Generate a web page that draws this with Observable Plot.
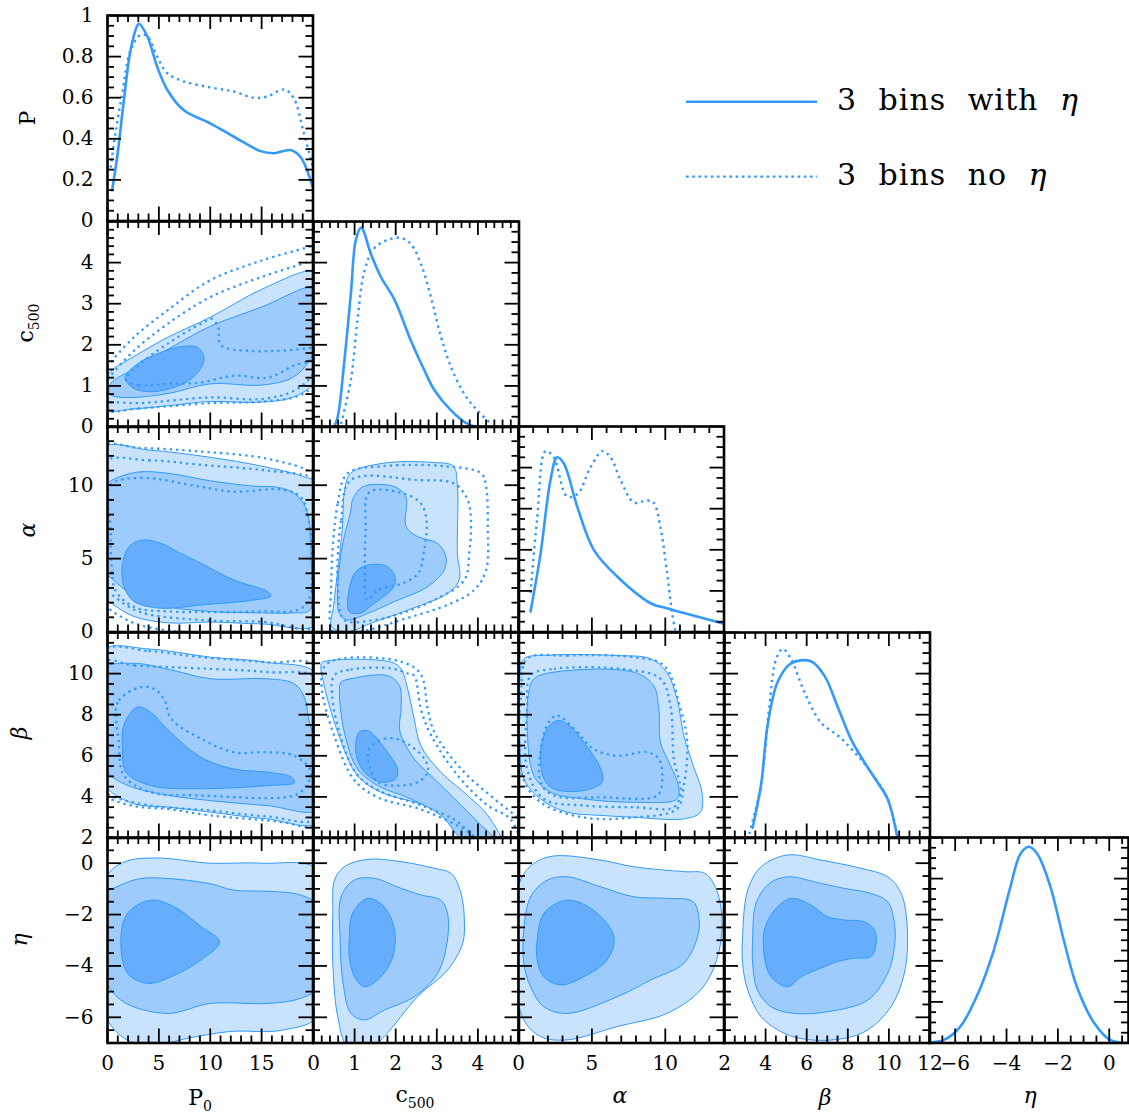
<!DOCTYPE html>
<html><head><meta charset="utf-8">
<script src="https://cdn.jsdelivr.net/npm/d3@7"></script>
<script src="https://cdn.jsdelivr.net/npm/@observablehq/plot@0.6"></script>
<style>
html,body{margin:0;padding:0;background:#fff;overflow:hidden}
#fig{position:relative;width:1129px;height:1115px;background:#fff}
.panel{position:absolute}
</style></head>
<body><div id="fig"></div>
<script>
// ---------- axes ----------
const P0_domain = [0, 20], c500_domain = [0, 5], alpha_domain = [0, 14], beta_domain = [2, 12], eta_domain = [-7, 0.75];
const eta_ydomain = [-7, 1], prob_domain = [0, 1];
const P0_labels = [0, 5, 10, 15];
const c500_labels = [0, 1, 2, 3, 4];
const alpha_labels = [0, 5, 10];
const beta_xlabels = [2, 4, 6, 8, 10, 12];
const beta_ylabels = [2, 4, 6, 8, 10];
const eta_labels = [-6, -4, -2, 0];
const prob_labels = [0, 0.2, 0.4, 0.6, 0.8, 1];

// ---------- 1D marginals ----------
const P0_solid = [[0.45,0.15],[0.94,0.31],[1.6,0.59],[2.24,0.83],[2.89,0.95],[3.05,0.96],[3.86,0.9],[4.84,0.75],[5.8,0.64],[7.4,0.54],[10,0.475],[12.3,0.41],[14.9,0.34],[16.2,0.33],[17.8,0.345],[18.8,0.31],[20,0.16]];
const P0_dotted = [[0.3,0.26],[0.78,0.43],[1.43,0.62],[2.24,0.83],[3.2,0.905],[3.86,0.9],[4.84,0.8],[5.8,0.72],[7.4,0.68],[10,0.65],[12.3,0.63],[14.2,0.6],[15.5,0.605],[17.2,0.64],[18.1,0.6],[19.1,0.43],[20,0.26]];
const c500_solid = [[0.5,0],[0.59,0.05],[0.75,0.32],[0.91,0.65],[1.03,0.91],[1.16,0.97],[1.4,0.84],[1.64,0.73],[1.97,0.62],[2.37,0.42],[2.7,0.275],[2.94,0.18],[3.35,0.08],[3.75,0.015],[4.0,0]];
const c500_dotted = [[0.67,0.015],[0.91,0.23],[1.07,0.52],[1.24,0.76],[1.48,0.87],[1.8,0.91],[2.13,0.92],[2.37,0.89],[2.62,0.79],[2.86,0.63],[3.1,0.44],[3.35,0.29],[3.67,0.16],[3.99,0.08],[4.32,0.015]];
const alpha_solid = [[0.82,0.1],[1.5,0.38],[2.18,0.74],[2.63,0.85],[3.09,0.82],[4.0,0.61],[5.13,0.4],[6.72,0.27],[9.0,0.14],[10.1,0.115],[14,0.04]];
const alpha_dotted = [[0.82,0.19],[1.27,0.55],[1.84,0.88],[2.4,0.85],[3.3,0.66],[4.0,0.67],[4.9,0.8],[5.7,0.88],[6.27,0.85],[6.95,0.74],[7.86,0.63],[8.76,0.64],[9.2,0.63],[9.67,0.51],[10.1,0.3],[10.47,0.09],[10.7,0]];
const beta_solid = [[3.37,0.05],[3.78,0.26],[4.1,0.55],[4.59,0.76],[5.24,0.85],[6.2,0.86],[6.86,0.79],[7.5,0.64],[8.16,0.48],[8.8,0.37],[9.45,0.27],[9.94,0.19],[10.4,0.01]];
const beta_dotted = [[3.2,0.02],[3.78,0.26],[4.18,0.64],[4.51,0.87],[4.83,0.92],[5.24,0.87],[5.89,0.71],[6.7,0.56],[7.5,0.5],[8.3,0.42],[9.13,0.32],[9.94,0.19],[10.4,0.01]];
const eta_solid = [[-7,0.003],[-6.44,0.015],[-5.8,0.08],[-5.15,0.23],[-4.5,0.45],[-3.85,0.76],[-3.46,0.92],[-3.13,0.955],[-2.8,0.92],[-2.29,0.76],[-1.77,0.5],[-1.25,0.27],[-0.6,0.1],[0.04,0.015],[0.75,0]];

// ---------- 2D contours (x, y); s3 = outer, s1 = inner ----------
// c500 vs P0
const c5_p0_s3 = [[-0.5,0.42],[2.6,0.44],[6,0.52],[10,0.62],[14.5,0.6],[18,0.72],[20,1.05],[20.6,1.6],[20.6,3.6],[20,3.8],[15,3.35],[10,2.67],[6,2.2],[2.6,1.72],[0.3,1.35],[-0.5,1.0]];
const c5_p0_s2 = [[0.2,0.8],[1,0.73],[2.6,0.72],[6,0.82],[10,1.05],[15,1.02],[18,1.2],[19.6,1.6],[20.6,2.2],[20.6,3.3],[20,3.42],[15,2.92],[10,2.45],[5.8,1.88],[2.6,1.42],[0.3,1.05]];
const c5_p0_s1 = [[1.7,1.2],[2.5,0.95],[4,0.86],[6,0.93],[8.3,1.2],[9.4,1.65],[8.8,1.93],[7,1.95],[5,1.8],[3,1.55]];
const c5_p0_d3 = [[-0.5,0.42],[3,0.45],[10,0.58],[15,0.62],[18.5,0.75],[20,1.0],[20.6,1.5],[20.6,4.5],[20,4.42],[15,4.05],[10,3.57],[5.8,2.83],[2.6,2.19],[0,1.46],[-0.5,1.2]];
const c5_p0_d2 = [[-0.5,0.55],[0.3,0.6],[3,0.58],[10,0.72],[15,0.68],[18.2,0.89],[20,1.3],[20.6,2],[20.6,4.1],[20,4.05],[15,3.65],[10,3.16],[5.8,2.5],[2.6,1.86],[0.3,1.25],[-0.5,1.0]];
const c5_p0_d1 = [[1.8,1.15],[3,1.02],[6,1.05],[9,1.08],[12.3,1.25],[15.6,1.2],[18.2,1.5],[20.6,1.7],[20.6,2.0],[20,1.94],[14,1.85],[11,2.0],[10.8,2.4],[10.2,2.63],[9,2.5],[6,2.05],[3,1.5]];
// alpha vs P0
const al_p0_s3 = [[-0.5,12.5],[4,12.4],[10,11.9],[15,11.3],[19,10.6],[20.6,10],[20.6,0.6],[15,0.55],[10,0.68],[6,0.62],[2.6,1.05],[0.5,1.9],[-0.5,2.5]];
const al_p0_s2 = [[-0.5,9.8],[0.6,10.4],[3,10.9],[6,10.8],[10,10.3],[14,9.95],[17,9.8],[18.6,9.2],[19.5,8],[19.8,5],[19.7,1.5],[18,1.3],[15,1.3],[10,1.4],[6,1.7],[3,2.3],[0.8,3.4],[-0.5,4.5]];
const al_p0_s1 = [[1.46,4.68],[2.2,5.9],[3.57,6.27],[5.2,6.04],[7,5.4],[9.1,4.68],[12.3,3.54],[15.6,2.75],[15.9,2.45],[14.3,2.18],[9.1,1.84],[5.2,1.62],[2.6,2.07],[1.6,3.1]];
const al_p0_d3 = [[-0.5,12.6],[3,12.55],[9,12.3],[15.6,11.8],[20,10.8],[20.6,10],[20.6,0],[15,-0.2],[6,0.1],[2.6,0.6],[0.3,1.5],[-0.5,2]];
const al_p0_d2 = [[-0.5,11.5],[4,11.7],[9,11.4],[15.6,11.0],[20,10.5],[20.6,10],[20.6,0.5],[15,0.7],[9,0.82],[3,1.4],[0.3,2.6],[-0.5,3]];
const al_p0_d1 = [[0.3,10.0],[3.2,10.5],[9,9.9],[12.3,9.56],[17,9.7],[18.8,9.2],[19.6,7.6],[19.6,2.2],[18.5,1.5],[15,1.4],[6,1.4],[2.6,1.7],[0.8,2.8],[0.4,4.5],[0.3,7]];
// alpha vs c500
const al_c5_s3 = [[0.45,0.3],[0.5,2],[0.7,7],[0.75,9.5],[0.9,10.8],[1.7,11.5],[2.9,11.55],[3.4,11.3],[3.5,10],[3.5,5.4],[3.55,3.6],[3.3,2.7],[2.3,1.5],[1.4,0.6],[0.9,0.05]];
const al_c5_s2 = [[0.91,8.3],[0.95,9.0],[1.2,9.9],[1.97,9.9],[2.25,9.2],[2.25,7.2],[2.53,6.5],[3.02,6.04],[3.22,5.13],[3.18,4.22],[2.78,3.09],[1.97,2.07],[1.32,1.27],[0.83,0.82],[0.63,1.27],[0.67,5.36]];
const al_c5_s1 = [[0.83,2.07],[1.0,4.0],[1.32,4.56],[1.8,4.45],[2.0,3.54],[1.89,2.86],[1.48,1.95],[1.12,1.27],[0.87,1.38]];
const al_c5_d3 = [[0.43,3.1],[0.59,8.76],[0.83,10.8],[1.72,11.3],[3.18,11.3],[4.08,10.8],[4.2,9.9],[4.24,7.2],[4.2,4.22],[3.91,2.86],[3.35,1.95],[2.13,0.82],[1.32,0.14],[0.5,-0.1]];
const al_c5_d2 = [[0.59,3.1],[0.67,7.6],[0.91,10.35],[2.53,10.35],[3.43,10.1],[3.75,9.0],[3.83,7.6],[3.79,5.36],[3.67,3.54],[2.94,2.18],[2.13,1.27],[1.48,0.82],[0.75,0.82]];
const al_c5_d1 = [[1.3,2.2],[1.6,2.9],[2.15,3.3],[2.55,4.0],[2.68,5.4],[2.75,7.6],[2.6,8.8],[2.1,9.5],[1.35,9.5],[1.27,7],[1.25,4]];
// beta vs P0
const be_p0_s3 = [[-0.5,11.1],[4,11.2],[10,10.8],[15.5,10.55],[20.6,9.9],[20.6,2.8],[15.5,2.93],[10,3.26],[6,3.5],[2.6,3.66],[0,4.4],[-0.5,5]];
const be_p0_s2 = [[-0.5,10.2],[2.6,10.5],[6,10.2],[10,9.75],[15.5,9.75],[18.2,9.5],[19.2,8.8],[19.7,7.5],[20.6,6.5],[20.6,3.4],[15.5,3.58],[10,3.82],[6,4.07],[2,4.55],[0,5.2],[-0.5,6]];
const be_p0_s1 = [[2.9,8.37],[1.6,7.5],[1.46,6.34],[1.8,5.2],[4.2,4.55],[9.1,4.4],[15.6,4.55],[18.2,4.7],[17.9,4.96],[15.6,5.2],[12.3,5.36],[9.1,5.93],[5.8,7.3],[4.2,8.12]];
const be_p0_d3 = [[-0.5,11.1],[4,11.1],[9.1,10.8],[15.6,10.55],[20.6,10.3],[20.6,2.7],[17,2.77],[15.6,2.85],[10,3.1],[6,3.4],[2.6,3.55],[0.3,3.9],[-0.5,4.2]];
const be_p0_d2 = [[-0.5,10.56],[2.6,10.4],[10,10.23],[15.6,10.07],[20.6,9.7],[20.6,3.0],[15.6,3.05],[10,3.34],[4.2,3.58],[0.3,4.07],[-0.5,4.5]];
const be_p0_d1 = [[3.2,9.34],[1,8.6],[1.1,6.66],[1.6,5.04],[4.2,4.23],[9.1,4.07],[17.2,3.98],[18.8,4.23],[19.8,5.2],[18.2,6.0],[15.6,6.17],[12.3,6.17],[9.1,6.83],[6.2,7.8],[5.5,8.77],[4.5,9.26]];
// beta vs c500
const be_c5_s3 = [[0.18,10.4],[0.22,10.56],[1.89,10.56],[2.13,10.23],[2.29,9.26],[2.45,7.8],[2.61,6.5],[3.1,5.2],[3.75,4.07],[4.24,3.1],[4.6,1.6],[4.0,1.6],[3.59,2.6],[2.7,3.58],[1.64,4.23],[1.07,5.04],[0.59,7.15],[0.26,9.42]];
const be_c5_s2 = [[0.67,9.58],[0.91,9.75],[1.8,9.9],[2.09,9.42],[2.13,8.28],[2.09,7.47],[2.13,7.0],[2.45,5.85],[2.94,4.88],[3.43,3.91],[4.0,2.77],[4.45,1.8],[3.7,1.8],[3.1,3.1],[2.37,3.9],[1.56,4.55],[1.07,5.36],[0.75,7.15],[0.63,9.1]];
const be_c5_s1 = [[1.11,7.15],[1.32,7.23],[1.8,6.18],[2.04,5.36],[2.0,4.88],[1.64,4.72],[1.24,5.2],[1.03,6.18]];
const be_c5_d3 = [[0.25,10.3],[0.6,10.7],[2.1,10.6],[2.6,10.0],[2.78,8.28],[2.94,7.15],[3.59,5.36],[4.4,3.9],[4.95,3.0],[5.2,2.3],[5.2,1.5],[4.4,1.5],[3.6,2.5],[2.6,3.4],[1.6,3.95],[1.0,4.8],[0.5,7.0],[0.2,9.3]];
const be_c5_d2 = [[0.5,9.9],[0.9,10.2],[1.9,10.25],[2.3,10.0],[2.45,9.9],[2.61,8.28],[2.86,7.0],[3.51,5.04],[4.24,3.58],[4.8,2.9],[5.0,1.5],[4.2,1.5],[3.5,2.8],[2.6,3.6],[1.6,4.3],[1.05,5.1],[0.65,7.0],[0.45,9.0]];
const be_c5_d1 = [[1.36,6.34],[1.72,6.83],[2.13,6.75],[2.7,5.85],[2.78,5.2],[2.53,4.72],[2.05,4.55],[1.56,4.72],[1.36,5.53]];
// beta vs alpha
const be_al_s3 = [[0.36,10.72],[2.18,10.9],[6.7,10.88],[9.0,10.72],[10.1,10.07],[10.8,8.77],[11.26,7.0],[11.9,5.53],[12.5,4.23],[12.4,3.26],[11.26,2.93],[7.86,3.01],[5.6,3.1],[3.3,3.26],[1.5,3.9],[0.36,4.88],[0.1,6.66],[0.1,9.9]];
const be_al_s2 = [[1.04,9.75],[2.4,10.07],[7.86,10.07],[9.2,9.42],[9.56,8.28],[9.67,6.66],[10.35,5.53],[10.9,4.55],[10.8,3.9],[7.86,3.74],[4.45,3.9],[2.18,4.23],[1.04,5.04],[0.59,7.47],[0.7,9.1]];
const be_al_s1 = [[2.63,7.72],[3.3,7.56],[4.45,6.66],[5.6,5.36],[5.7,4.72],[4.45,4.31],[2.4,4.39],[1.73,4.88],[1.5,6.18],[1.95,7.31]];
const be_al_d3 = [[0.59,10.72],[3.3,10.88],[7.86,10.8],[9.9,10.4],[11.04,8.28],[11.5,6.66],[11.26,4.55],[10.8,3.42],[7.86,3.0],[4.45,3.0],[1.5,3.74],[0.25,5.04],[0.18,9.1]];
const be_al_d2 = [[0.82,9.9],[2.4,10.23],[6.95,10.23],[9.67,9.75],[10.35,8.45],[10.58,5.85],[11.04,4.23],[10.58,3.5],[7.86,3.5],[4.45,3.58],[1.73,3.9],[0.59,5.36],[0.59,8.28]];
const be_al_d1 = [[2.63,7.96],[4.0,7.15],[5.1,6.34],[6.7,6.0],[8.76,6.18],[9.56,5.85],[9.8,4.88],[9.45,4.07],[5.6,3.98],[2.4,4.07],[1.5,4.72],[1.6,6.66],[2.07,7.64]];
// eta row (with-eta run only)
const et_p0_s3 = [[-0.5,-1],[0.3,-0.3],[2,0.1],[5,0.2],[10,0],[15,0],[20.6,-0.3],[20.6,-5.9],[17,-6.5],[12,-6.55],[8,-6.8],[5,-7.05],[2,-6.9],[0,-6.1],[-0.5,-5]];
const et_p0_s2 = [[-0.5,-1.3],[1,-0.9],[3.2,-0.6],[6,-0.6],[10,-0.8],[12.3,-1.05],[16,-1.1],[18.8,-1.24],[20.6,-1.7],[20.6,-4.8],[18.8,-5.26],[15.6,-5.46],[10,-5.46],[5.8,-5.85],[1.3,-5.33],[-0.5,-4.2]];
const et_p0_s1 = [[1.3,-2.99],[1.95,-1.95],[4.2,-1.44],[6.5,-1.7],[9.1,-2.47],[10.9,-3.06],[9.1,-3.77],[5.84,-4.48],[3.9,-4.68],[1.95,-4.29]];
const et_c5_s3 = [[0.47,-1.95],[0.51,-0.66],[0.75,-0.14],[1.32,0.15],[2.13,0.06],[2.94,-0.2],[3.35,-0.4],[3.59,-1.18],[3.67,-2.21],[3.63,-3.12],[3.26,-4.16],[2.53,-5.2],[1.72,-6.75],[1.32,-7.27],[0.83,-7.14],[0.59,-5.98],[0.47,-3.9]];
const et_c5_s2 = [[0.65,-2.99],[0.67,-1.31],[0.99,-0.66],[1.48,-0.59],[2.13,-0.98],[2.62,-1.24],[3.1,-1.44],[3.26,-1.95],[3.26,-2.99],[3.02,-4.29],[2.45,-5.2],[1.72,-5.72],[1.24,-6.1],[0.91,-5.85],[0.71,-4.55]];
const et_c5_s1 = [[0.87,-2.99],[0.95,-1.95],[1.32,-1.37],[1.72,-1.7],[1.97,-2.6],[1.93,-3.64],[1.64,-4.42],[1.24,-4.81],[1.0,-4.42],[0.87,-3.64]];
const et_al_s3 = [[-0.2,-2.6],[0.14,-0.66],[1.04,-0.01],[2.4,0.28],[5.59,0.12],[7.86,-0.14],[11.26,-0.33],[12.7,-0.4],[13.5,-1.05],[13.87,-2.34],[13.5,-3.77],[12.4,-4.94],[10.1,-5.85],[6.72,-6.36],[3.3,-6.88],[1.5,-6.75],[0.36,-6.1],[-0.2,-4.55]];
const et_al_s2 = [[0.36,-2.6],[0.82,-1.31],[1.95,-0.66],[3.3,-0.53],[5.59,-0.92],[7.86,-1.31],[10.1,-1.37],[11.9,-1.5],[12.3,-2.21],[12.2,-2.86],[11.26,-3.9],[9.0,-4.55],[6.72,-5.2],[3.3,-5.85],[1.73,-5.59],[0.82,-4.81],[0.36,-3.9]];
const et_al_s1 = [[1.27,-2.99],[1.73,-1.95],[3.3,-1.44],[5.1,-1.83],[6.5,-2.86],[6.04,-3.77],[4.45,-4.42],[2.86,-4.74],[1.73,-4.42],[1.27,-3.77]];
const et_be_s3 = [[2.88,-2.86],[3.13,-1.05],[3.78,-0.14],[5.07,0.32],[6.7,0.12],[8.64,-0.2],[9.94,-0.53],[10.6,-1.18],[10.9,-2.6],[10.75,-4.29],[10.1,-5.59],[8.97,-6.49],[7.83,-6.82],[6.2,-6.88],[4.9,-6.62],[3.78,-5.98],[3.13,-4.94],[2.88,-3.9]];
const et_be_s2 = [[3.37,-2.99],[3.53,-1.57],[4.18,-0.79],[5.07,-0.53],[6.7,-0.79],[7.83,-0.98],[9.13,-1.18],[9.94,-1.5],[10.27,-2.34],[10.27,-3.25],[9.94,-4.29],[8.97,-5.33],[7.02,-5.78],[5.4,-5.85],[4.26,-5.59],[3.6,-4.94],[3.37,-3.9]];
const et_be_s1 = [[3.94,-2.6],[4.43,-1.83],[5.24,-1.37],[6.2,-1.63],[7.02,-2.08],[7.83,-2.21],[8.8,-2.28],[9.3,-2.6],[9.38,-3.12],[9.13,-3.64],[8.3,-3.7],[7.5,-3.83],[6.86,-4.03],[5.73,-4.42],[5.07,-4.81],[4.26,-4.42],[3.94,-3.64]];

// ---------- tables built from the arrays ----------
const axesList = [
  {domain: P0_domain, xlabels: P0_labels, ylabels: null, major: 5, minor: 1},
  {domain: c500_domain, xlabels: c500_labels, ylabels: c500_labels, major: 1, minor: 0.2},
  {domain: alpha_domain, xlabels: alpha_labels, ylabels: alpha_labels, major: 5, minor: 1},
  {domain: beta_domain, xlabels: beta_xlabels, ylabels: beta_ylabels, major: 2, minor: 0.5},
  {domain: eta_domain, ydomain: eta_ydomain, xlabels: eta_labels, ylabels: eta_labels, major: 2, minor: 0.5}
];
const probAxis = {domain: prob_domain, ylabels: prob_labels, major: 0.2, minor: 0.05};
const diagLines = [[P0_solid, P0_dotted], [c500_solid, c500_dotted], [alpha_solid, alpha_dotted], [beta_solid, beta_dotted], [eta_solid, null]];
const contours = {
  "1-0": [[c5_p0_s3, c5_p0_s2, c5_p0_s1], [c5_p0_d3, c5_p0_d2, c5_p0_d1]],
  "2-0": [[al_p0_s3, al_p0_s2, al_p0_s1], [al_p0_d3, al_p0_d2, al_p0_d1]],
  "2-1": [[al_c5_s3, al_c5_s2, al_c5_s1], [al_c5_d3, al_c5_d2, al_c5_d1]],
  "3-0": [[be_p0_s3, be_p0_s2, be_p0_s1], [be_p0_d3, be_p0_d2, be_p0_d1]],
  "3-1": [[be_c5_s3, be_c5_s2, be_c5_s1], [be_c5_d3, be_c5_d2, be_c5_d1]],
  "3-2": [[be_al_s3, be_al_s2, be_al_s1], [be_al_d3, be_al_d2, be_al_d1]],
  "4-0": [[et_p0_s3, et_p0_s2, et_p0_s1], []],
  "4-1": [[et_c5_s3, et_c5_s2, et_c5_s1], []],
  "4-2": [[et_al_s3, et_al_s2, et_al_s1], []],
  "4-3": [[et_be_s3, et_be_s2, et_be_s1], []]
};

// ---------- styling ----------
const BLUE = "#3399ff";
const FILLS = ["#cae3fd", "#9dcbfc", "#66aefb"];
const X0 = 107, Y0 = 15, S = 205.5, LASTW = 199;
const FONT = "'DejaVu Serif', serif";
const fmt = d => d < 0 ? "\u2212" + Math.abs(d) : String(d);

function tickSets(ax) {
  const [lo, hi] = ax.ydomainOverride || ax.domain;
  const isMaj = v => Math.abs(v / ax.major - Math.round(v / ax.major)) < 1e-6;
  const major = d3.range(Math.ceil(lo / ax.major - 1e-9) * ax.major, hi + 1e-9, ax.major).map(v => +v.toFixed(6));
  const minor = d3.range(Math.ceil(lo / ax.minor - 1e-9) * ax.minor, hi + 1e-9, ax.minor).map(v => +v.toFixed(6)).filter(v => !isMaj(v));
  return {major, minor};
}

const fig = document.getElementById("fig");

function makePanel(row, col) {
  const W = col === 4 ? LASTW : S, H = S;
  const xa = axesList[col];
  const ya = row === col ? probAxis : axesList[row];
  const ydom = ya.ydomain || ya.domain;
  const ml = col === 0 ? 107 : 4, mr = 4, mt = 4, mb = row === 4 ? 45 : 4;
  const xt = tickSets(xa), yt = tickSets({...ya, ydomainOverride: ydom});
  const M = 14, m = 7, tw = 1.8;
  const marks = [];
  if (row === col) {
    const [sol, dot] = diagLines[col];
    if (dot) marks.push(Plot.line(dot, {x: d => d[0], y: d => d[1], curve: "catmull-rom", stroke: BLUE, strokeWidth: 2.4, strokeDasharray: "2.4,4", strokeLinecap: "butt", clip: true}));
    marks.push(Plot.line(sol, {x: d => d[0], y: d => d[1], curve: "catmull-rom", stroke: BLUE, strokeWidth: 2.6, clip: true}));
  } else {
    const [sol, dot] = contours[`${row}-${col}`];
    sol.forEach((c, i) => marks.push(Plot.line(c, {x: d => d[0], y: d => d[1], curve: "catmull-rom-closed", fill: FILLS[i], stroke: BLUE, strokeWidth: 1, clip: true})));
    dot.forEach(c => marks.push(Plot.line(c, {x: d => d[0], y: d => d[1], curve: "catmull-rom-closed", stroke: BLUE, strokeWidth: 2.3, strokeDasharray: "2.3,4", strokeLinecap: "butt", clip: true})));
  }
  const tk = {stroke: "black", strokeWidth: tw};
  marks.push(
    Plot.tickX(xt.major, {x: d => d, insetTop: H - M, ...tk}),
    Plot.tickX(xt.major, {x: d => d, insetBottom: H - M, ...tk}),
    Plot.tickX(xt.minor, {x: d => d, insetTop: H - m, ...tk}),
    Plot.tickX(xt.minor, {x: d => d, insetBottom: H - m, ...tk}),
    Plot.tickY(yt.major, {y: d => d, insetRight: W - M, ...tk}),
    Plot.tickY(yt.major, {y: d => d, insetLeft: W - M, ...tk}),
    Plot.tickY(yt.minor, {y: d => d, insetRight: W - m, ...tk}),
    Plot.tickY(yt.minor, {y: d => d, insetLeft: W - m, ...tk}),
    Plot.frame({stroke: "black", strokeWidth: 2.6})
  );
  const svg = Plot.plot({
    width: W + ml + mr, height: H + mt + mb,
    marginLeft: ml, marginRight: mr, marginTop: mt, marginBottom: mb,
    x: row === 4
      ? {domain: xa.domain, ticks: xa.xlabels, tickSize: 0, tickPadding: 13, tickFormat: fmt, label: null, axis: "bottom"}
      : {domain: xa.domain, axis: null},
    y: col === 0
      ? {domain: ydom, ticks: ya.ylabels, tickSize: 0, tickPadding: 14, tickFormat: fmt, label: null, axis: "left"}
      : {domain: ydom, axis: null},
    style: {background: "transparent", overflow: "visible", fontSize: "20px", fontFamily: FONT, color: "black"},
    marks
  });
  const div = document.createElement("div");
  div.className = "panel";
  div.style.left = (X0 + col * S - ml) + "px";
  div.style.top = (Y0 + row * S - mt) + "px";
  div.style.width = (W + ml + mr) + "px";
  div.appendChild(svg);
  fig.appendChild(div);
}

for (let r = 0; r < 5; r++) for (let c = 0; c <= r; c++) makePanel(r, c);

// ---------- titles & legend overlay ----------
const ov = d3.select(fig).append("svg")
  .attr("width", 1129).attr("height", 1115)
  .style("position", "absolute").style("left", "0px").style("top", "0px")
  .style("pointer-events", "none").style("overflow", "visible")
  .attr("font-family", FONT).attr("fill", "black");

function leftTitle(x, y, main, sub, italic) {
  const t = ov.append("text").attr("transform", `translate(${x},${y}) rotate(-90)`).attr("text-anchor", "middle").attr("font-size", 22);
  t.append("tspan").text(main).attr("font-style", italic ? "italic" : null);
  if (sub) t.append("tspan").text(sub).attr("font-size", 14).attr("dy", 6);
}
leftTitle(35, 118, "P", null, false);
leftTitle(33, 323, "c", "500", false);
leftTitle(35, 530, "\u03b1", null, true);
leftTitle(27, 733, "\u03b2", null, true);
leftTitle(27, 940, "\u03b7", null, true);

function bottomTitle(x, y, main, sub, italic) {
  const t = ov.append("text").attr("x", x).attr("y", y).attr("text-anchor", "middle").attr("font-size", 22);
  t.append("tspan").text(main).attr("font-style", italic ? "italic" : null);
  if (sub) t.append("tspan").text(sub).attr("font-size", 14).attr("dy", 6);
}
bottomTitle(200, 1105, "P", "0", false);
bottomTitle(415, 1102, "c", "500", false);
bottomTitle(620, 1103, "\u03b1", null, true);
bottomTitle(825, 1105, "\u03b2", null, true);
bottomTitle(1030, 1103, "\u03b7", null, true);

// legend
ov.append("line").attr("x1", 686).attr("x2", 817).attr("y1", 101.7).attr("y2", 101.7).attr("stroke", BLUE).attr("stroke-width", 2.4);
ov.append("line").attr("x1", 686).attr("x2", 817).attr("y1", 176.7).attr("y2", 176.7).attr("stroke", BLUE).attr("stroke-width", 2.2).attr("stroke-dasharray", "2.6,3.6");
function legText(y, words) {
  const t = ov.append("text").attr("x", 837).attr("y", y).attr("font-size", 30).attr("letter-spacing", 1).attr("word-spacing", 11);
  t.append("tspan").text(words + " ");
  t.append("tspan").text("\u03b7").attr("font-style", "italic");
}
legText(110, "3 bins with");
legText(185, "3 bins no");
</script>
</body></html>
